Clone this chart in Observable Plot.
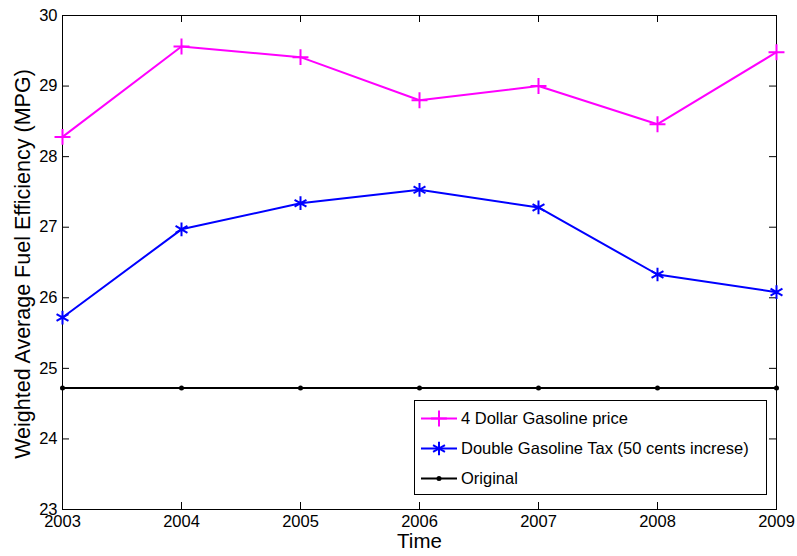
<!DOCTYPE html>
<html><head><meta charset="utf-8">
<script src="https://cdn.jsdelivr.net/npm/d3@7"></script>
<script src="https://cdn.jsdelivr.net/npm/@observablehq/plot@0.6"></script>
<style>
body{margin:0;background:#fff;font-family:"Liberation Sans",Arial,sans-serif;}
#wrap{position:relative;width:797px;height:556px;}
#legend{position:absolute;left:414px;top:400px;}
</style></head><body><div id="wrap"></div>
<script>
const years = [2003, 2004, 2005, 2006, 2007, 2008, 2009];
const fourDollar = [28.28, 29.56, 29.41, 28.80, 29.00, 28.46, 29.48];
const doubleTax = [25.72, 26.97, 27.34, 27.53, 27.28, 26.33, 26.08];
const original = [24.72, 24.72, 24.72, 24.72, 24.72, 24.72, 24.72];
const yTicks = [23, 24, 25, 26, 27, 28, 29, 30];
const xTicks = [2003, 2004, 2005, 2006, 2007, 2008, 2009];
const seriesNames = ["4 Dollar Gasoline price", "Double Gasoline Tax (50 cents increse)", "Original"];
const xLabel = "Time";
const yLabel = "Weighted Average Fuel Efficiency (MPG)";

const W = 797, H = 556, mL = 62, mR = 21, mT = 15, mB = 47;
const fw = W - mL - mR, fh = H - mT - mB, tick = 7;
const font = '"Liberation Sans", Arial, sans-serif';

const mk = arr => years.map((x, i) => ({x, y: arr[i]}));
const s1 = mk(fourDollar), s2 = mk(doubleTax), s3 = mk(original);

const chart = Plot.plot({
  width: W, height: H,
  marginLeft: mL, marginRight: mR, marginTop: mT, marginBottom: mB,
  style: {fontFamily: font, background: "#fff", color: "#000"},
  x: {domain: [2003, 2009], label: null},
  y: {domain: [23, 30], label: null},
  marks: [
    Plot.axisX({ticks: xTicks, tickFormat: d => String(d), tickSize: 0, tickPadding: 6, fontSize: 16.5, label: null}),
    Plot.axisY({ticks: yTicks, tickFormat: d => String(d), tickSize: 0, tickPadding: 5, fontSize: 16.5, label: null}),
    Plot.tickY(yTicks, {y: d => d, insetRight: fw - tick, stroke: "#000"}),
    Plot.tickY(yTicks, {y: d => d, insetLeft: fw - tick, stroke: "#000"}),
    Plot.tickX(xTicks, {x: d => d, insetTop: fh - tick, stroke: "#000"}),
    Plot.tickX(xTicks, {x: d => d, insetBottom: fh - tick, stroke: "#000"}),
    Plot.frame({stroke: "#000", strokeWidth: 1}),
    Plot.line(s3, {x: "x", y: "y", stroke: "#000", strokeWidth: 2}),
    Plot.dot(s3, {x: "x", y: "y", fill: "#000", r: 2.5}),
    Plot.line(s2, {x: "x", y: "y", stroke: "#0000ff", strokeWidth: 2}),
    Plot.dot(s2, {x: "x", y: "y", symbol: "asterisk", stroke: "#0000ff", strokeWidth: 2, r: 6.5}),
    Plot.line(s1, {x: "x", y: "y", stroke: "#ff00ff", strokeWidth: 2}),
    Plot.dot(s1, {x: "x", y: "y", symbol: "plus", stroke: "#ff00ff", strokeWidth: 2, r: 5.2}),
    Plot.text([yLabel], {frameAnchor: "left", textAnchor: "middle", lineAnchor: "middle", rotate: -90, dx: -39, dy: 1.5, fontSize: 21.5, fill: "#000"}),
    Plot.text([xLabel], {frameAnchor: "bottom", textAnchor: "middle", lineAnchor: "middle", dy: 32, fontSize: 20.5, fill: "#000"})
  ]
});
const wrap = document.getElementById("wrap");
wrap.appendChild(chart);

// legend
const legend = d3.select(wrap).append("svg").attr("id", "legend")
  .attr("width", 354).attr("height", 96)
  .style("font-family", font);
legend.append("rect").attr("x", 0.5).attr("y", 0.5).attr("width", 352).attr("height", 94)
  .attr("fill", "#fff").attr("stroke", "#000");
const entries = [
  {name: seriesNames[0], color: "#ff00ff", sym: d3.symbolPlus, size: 83},
  {name: seriesNames[1], color: "#0000ff", sym: d3.symbolAsterisk, size: 133},
  {name: seriesNames[2], color: "#000", sym: null}
];
entries.forEach((e, i) => {
  const cy = 18.5 + i * 30;
  const g = legend.append("g");
  g.append("line").attr("x1", 7).attr("x2", 43).attr("y1", cy).attr("y2", cy)
    .attr("stroke", e.color).attr("stroke-width", 2);
  if (e.sym) {
    g.append("path").attr("d", d3.symbol(e.sym, e.size)()).attr("transform", `translate(25,${cy})`)
      .attr("fill", "none").attr("stroke", e.color).attr("stroke-width", 2);
  } else {
    g.append("circle").attr("cx", 25).attr("cy", cy).attr("r", 2.5).attr("fill", "#000");
  }
  g.append("text").attr("x", 47).attr("y", cy).attr("dy", "0.35em")
    .attr("font-size", 16.5).attr("fill", "#000").text(e.name);
});
</script>
</body></html>
